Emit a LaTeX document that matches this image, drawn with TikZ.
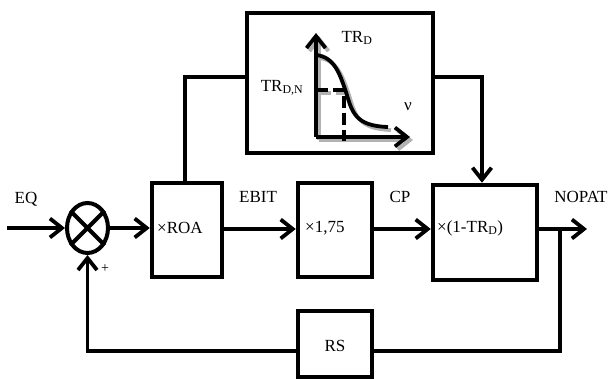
\documentclass[tikz,border=0pt]{standalone}
\usepackage{fontspec}
\setmainfont{Liberation Serif}
\usetikzlibrary{arrows.meta,shapes.geometric,calc}
\tikzset{
  blk/.style={draw,line width=4.5pt,rectangle,inner sep=0pt},
  conn/.style={line width=3.8pt},
  tipb/.style={-{Straight Barb[length=12pt,width=19pt,line width=3.8pt]}},
  arr/.style={conn,tipb},
  lbl/.style={font=\fontsize{17}{20}\selectfont,inner sep=0pt},
  shadowc/.style={gray!60,line width=3.8pt},
  dsh/.style={dash pattern=on 12pt off 5pt},
}
\begin{document}
\begin{tikzpicture}[x=1pt,y=-1pt]
\useasboundingbox (0,0) rectangle (611,379);
% blocks
\node[draw,ellipse,line width=4pt,minimum width=41pt,minimum height=50pt,inner sep=0pt] (sum) at (87.5,228) {};
\draw[line width=4pt] (sum.45) -- (sum.225) (sum.135) -- (sum.315);
\node[blk,minimum width=70pt,minimum height=94pt] (roa) at (187,230) {};
\node[blk,minimum width=74pt,minimum height=94pt] (m175) at (335,230) {};
\node[blk,minimum width=104pt,minimum height=95pt] (tax) at (485,232.5) {};
\node[blk,minimum width=74pt,minimum height=66pt] (rs) at (335,344) {};
\node[blk,minimum width=186pt,minimum height=140pt] (top) at (340,83) {};
% texts in blocks
\node[lbl,anchor=west] (troa) at (157,228) {×ROA};
\node[lbl,anchor=west] (t175) at (305,228) {×1,75};
\node[lbl,anchor=west] (ttax) at (437,228) {×(1-TR\textsubscript{D})};
\node[lbl] (trs) at (335,346) {RS};
% labels
\node[lbl] (leq) at (26,199) {EQ};
\node[lbl] (lebit) at (258,197) {EBIT};
\node[lbl] (lcp) at (400,197) {CP};
\node[lbl] (lnopat) at (581,197) {NOPAT};
\node[font=\fontsize{14}{15}\selectfont,inner sep=0pt] (lplus) at (105,269) {+};
% coordinates
\coordinate (in) at (7,228);
\coordinate (out) at (587,229);
\coordinate (br) at (560,229);
\coordinate (brd) at (560,351);
\coordinate (fbl) at (87.5,351);
\coordinate (roaup) at (185,77);
\coordinate (topr) at (482,77);
% main connections
\draw[arr] (in) -- (sum.west);
\draw[arr] (sum.east) -- (sum.east -| roa.west);
\draw[arr] (roa.east |- 0,229) -- (m175.west |- 0,229);
\draw[arr] (m175.east |- 0,229) -- (tax.west |- 0,229);
\draw[arr] (tax.east |- 0,229) -- (out);
\draw[conn] (br) -- (brd) -- (rs.east |- brd);
\draw[arr] (rs.west |- fbl) -- (fbl) -- (sum.south);
\draw[conn] (roa.north -| roaup) -- (roaup) -- (top.west |- roaup);
\draw[arr] (top.east |- topr) -- (topr) -- (topr |- tax.north);
% inner graph
\begin{scope}[shift={(3,3)}]
\draw[shadowc] (316,55) .. controls (335,57) and (340,75) .. (346,92) .. controls (352,112) and (355,126) .. (388,127);
\draw[shadowc,tipb] (316,137) -- (316,33);
\draw[shadowc,tipb] (316,137) -- (410,137);
\draw[shadowc,dsh] (316,90) -- (344,90);
\end{scope}
\coordinate (ax0) at (316,137);
\coordinate (axy) at (316,33);
\coordinate (axx) at (410,137);
\draw[arr] (ax0) -- (axy);
\draw[arr] (ax0) -- (axx);
\draw[conn] (316,55) .. controls (335,57) and (340,75) .. (346,92) .. controls (352,112) and (355,126) .. (388,127);
\draw[conn,dsh] (316,90) -- (344,90) -- (344,141);
\node[lbl] (ltrd) at (357,38) {TR\textsubscript{D}};
\node[lbl] (ltrdn) at (282,88) {TR\textsubscript{D,N}};
\node[lbl] (lnu) at (408,107) {ν};
\end{tikzpicture}
\end{document}
